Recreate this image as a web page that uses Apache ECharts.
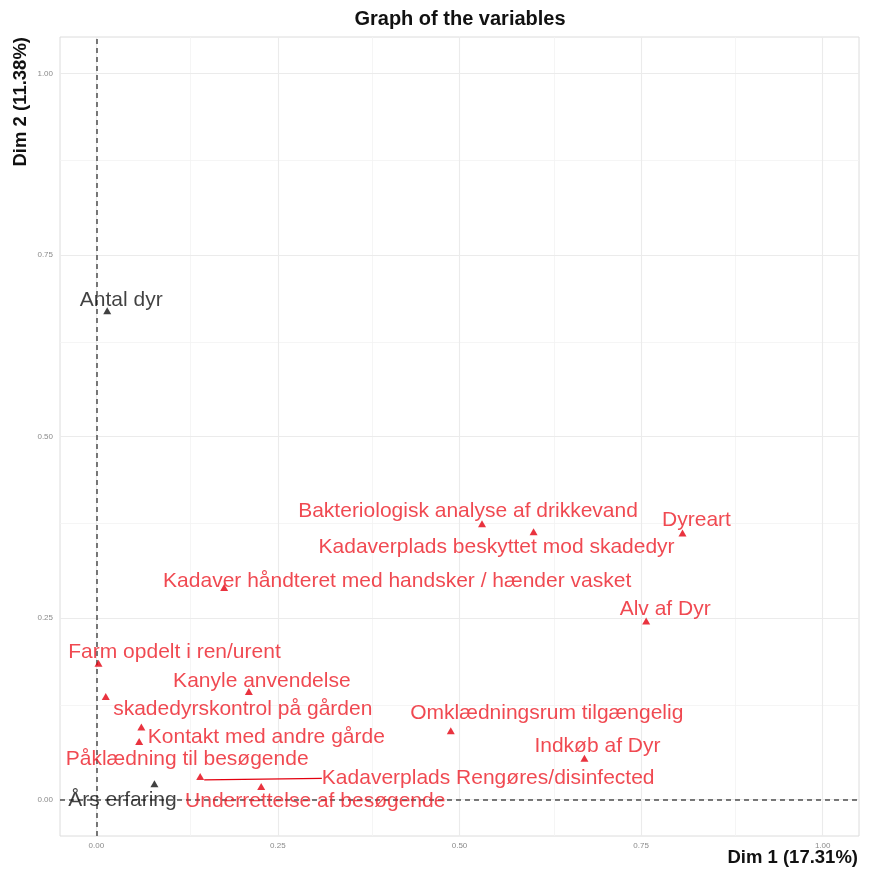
<!DOCTYPE html>
<html>
<head>
<meta charset="utf-8">
<script src="https://cdn.jsdelivr.net/npm/echarts@6/dist/echarts.min.js"></script>
<style>
  html, body { margin: 0; padding: 0; background: #fff; }
  #chart { width: 869px; height: 876px; }
</style>
</head>
<body>
<div id="chart"></div>
<script>
// Variable coordinates on the first two dimensions
const varNames = [
  'Antal dyr', 'Års erfaring',
  'Farm opdelt i ren/urent', 'skadedyrskontrol på gården', 'Kanyle anvendelse',
  'Kontakt med andre gårde', 'Påklædning til besøgende',
  'Kadaverplads Rengøres/disinfected', 'Underrettelse af besøgende',
  'Bakteriologisk analyse af drikkevand', 'Kadaverplads beskyttet mod skadedyr',
  'Dyreart', 'Kadaver håndteret med handsker / hænder vasket', 'Alv af Dyr',
  'Omklædningsrum tilgængelig', 'Indkøb af Dyr'
];
const dim1 = [0.015, 0.080, 0.003, 0.013, 0.210, 0.062, 0.059, 0.143, 0.227,
              0.531, 0.602, 0.807, 0.176, 0.757, 0.488, 0.672];
const dim2 = [0.673, 0.022, 0.188, 0.142, 0.149, 0.100, 0.080, 0.032, 0.018,
              0.380, 0.369, 0.367, 0.292, 0.246, 0.095, 0.057];
// Quantitative variables drawn in black, the rest in red
const blackVars = ['Antal dyr', 'Års erfaring'];
const tickValues = [0, 0.25, 0.5, 0.75, 1];
const minorValues = [0.125, 0.375, 0.625, 0.875];

// Label displacement (pixels) from each point, repelled to avoid overlaps
const labelShift = {
  'Antal dyr': [14, -11],
  'Års erfaring': [-32, 17],
  'Farm opdelt i ren/urent': [76, -11],
  'skadedyrskontrol på gården': [137, 13],
  'Kanyle anvendelse': [13, -10],
  'Kontakt med andre gårde': [125, 10],
  'Påklædning til besøgende': [48, 18],
  'Kadaverplads Rengøres/disinfected': [288, 2],
  'Underrettelse af besøgende': [54, 15],
  'Bakteriologisk analyse af drikkevand': [-14, -12],
  'Kadaverplads beskyttet mod skadedyr': [-37, 16],
  'Dyreart': [14, -13],
  'Kadaver håndteret med handsker / hænder vasket': [173, -6],
  'Alv af Dyr': [19, -12],
  'Omklædningsrum tilgængelig': [96, -17],
  'Indkøb af Dyr': [13, -12]
};
const withSegment = ['Kadaverplads Rengøres/disinfected'];

const RED = '#ec1c26';
const RED_MARK = '#e3000f';
const BLACK = '#111111';
const FONT = '"Liberation Sans", Arial, sans-serif';

const points = varNames.map((n, i) => {
  const isBlack = blackVars.includes(n);
  const col = isBlack ? BLACK : RED;
  return {
    name: n,
    value: [dim1[i], dim2[i]],
    itemStyle: { color: isBlack ? BLACK : RED_MARK },
    label: { color: col },
    labelLine: withSegment.includes(n)
      ? { show: true, lineStyle: { color: RED_MARK, width: 1.2 } }
      : { show: false }
  };
});

function gridLines(vals, axis, style) {
  return vals.map(v => ({ [axis]: v, lineStyle: style }));
}
const minorStyle = { color: '#f3f3f3', width: 0.8, type: 'solid' };
const majorStyle = { color: '#ebebeb', width: 1.1, type: 'solid' };

const chart = echarts.init(document.getElementById('chart'), null, { renderer: 'canvas' });
chart.setOption({
  animation: false,
  backgroundColor: '#ffffff',
  grid: { left: 60, top: 37, right: 10, bottom: 40, show: true,
          borderColor: '#dcdcdc', borderWidth: 1, backgroundColor: '#fff' },
  xAxis: {
    type: 'value', min: -0.05, max: 1.05,
    axisLine: { show: false },
    splitLine: { show: false },
    axisTick: { show: true, customValues: tickValues, length: 4,
                lineStyle: { color: '#bdbdbd' } },
    axisLabel: { show: true, customValues: tickValues, fontSize: 8, color: '#8a8a8a',
                 fontFamily: FONT, margin: 6, formatter: v => v.toFixed(2) }
  },
  yAxis: {
    type: 'value', min: -0.05, max: 1.05,
    axisLine: { show: false },
    splitLine: { show: false },
    axisTick: { show: true, customValues: tickValues, length: 4,
                lineStyle: { color: '#bdbdbd' } },
    axisLabel: { show: true, customValues: tickValues, fontSize: 8, color: '#8a8a8a',
                 fontFamily: FONT, margin: 7, formatter: v => v.toFixed(2) }
  },
  graphic: [
    { type: 'text', x: 460, y: 9,
      style: { text: 'Graph of the variables', font: 'bold 20px ' + FONT, fill: '#111',
               align: 'center', verticalAlign: 'top' } },
    { type: 'text', x: 858, y: 848,
      style: { text: 'Dim 1 (17.31%)', font: 'bold 18.5px ' + FONT, fill: '#111',
               align: 'right', verticalAlign: 'top' } },
    { type: 'text', x: 11, y: 37, rotation: Math.PI / 2,
      style: { text: 'Dim 2 (11.38%)', font: 'bold 18.5px ' + FONT, fill: '#111',
               align: 'right', verticalAlign: 'top' } }
  ],
  series: [
    {
      // panel grid lines
      type: 'scatter', data: [], silent: true, z: 1,
      markLine: {
        silent: true, symbol: 'none', label: { show: false },
        data: [
          ...gridLines(minorValues, 'xAxis', minorStyle),
          ...gridLines(minorValues, 'yAxis', minorStyle),
          ...gridLines(tickValues, 'xAxis', majorStyle),
          ...gridLines(tickValues, 'yAxis', majorStyle)
        ]
      }
    },
    {
      // reference lines through the origin
      type: 'scatter', data: [], silent: true, z: 2,
      markLine: {
        silent: true, symbol: 'none', label: { show: false },
        lineStyle: { color: '#4d4d4d', width: 1.5, type: [5, 4] },
        data: [{ xAxis: 0 }, { yAxis: 0 }]
      }
    },
    {
      type: 'scatter', z: 5,
      symbol: 'triangle', symbolSize: [8, 7],
      data: points,
      label: {
        show: true, position: 'inside', formatter: '{b}',
        fontFamily: FONT, fontSize: 21,
        textBorderWidth: 0, textBorderColor: 'transparent'
      },
      labelLayout: function (p) {
        const s = labelShift[varNames[p.dataIndex]] || [0, 0];
        return { dx: s[0], dy: s[1] };
      }
    }
  ]
});
</script>
</body>
</html>
